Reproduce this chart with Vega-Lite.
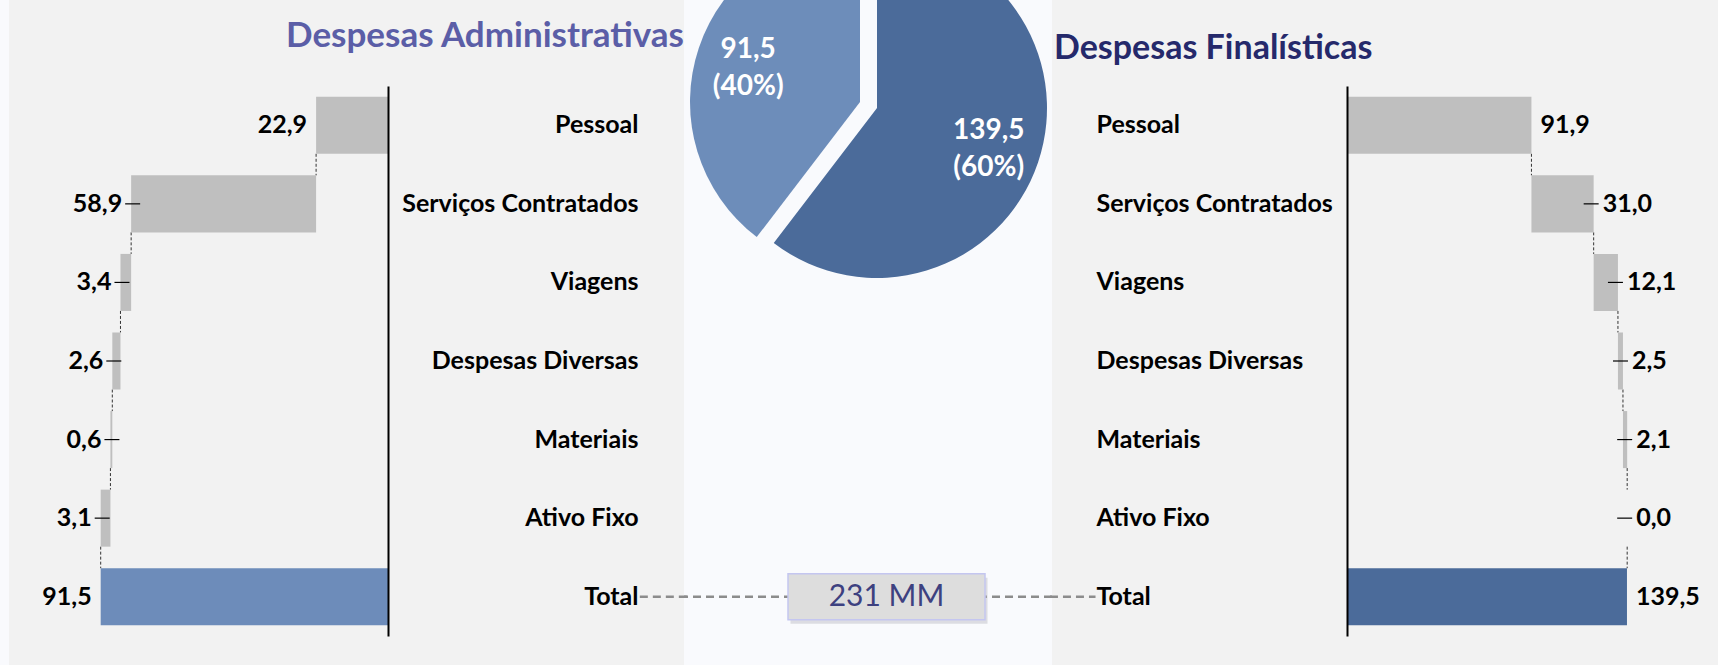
{
  "$schema": "https://vega.github.io/schema/vega-lite/v6.json",
  "background": "#f9fafd",
  "padding": {"left": 9, "top": 0, "right": 0, "bottom": 0},
  "spacing": 0,
  "bounds": "flush",
  "config": {"font": "Lato", "view": {"stroke": null}},
  "datasets": {
    "adm": [
      {"cat": "Pessoal", "inicio": 0, "fim": 22.9, "rotulo": "22,9", "prox": "Serviços Contratados"},
      {"cat": "Serviços Contratados", "inicio": 22.9, "fim": 81.8, "rotulo": "58,9", "prox": "Viagens"},
      {"cat": "Viagens", "inicio": 81.8, "fim": 85.2, "rotulo": "3,4", "prox": "Despesas Diversas"},
      {"cat": "Despesas Diversas", "inicio": 85.2, "fim": 87.8, "rotulo": "2,6", "prox": "Materiais"},
      {"cat": "Materiais", "inicio": 87.8, "fim": 88.4, "rotulo": "0,6", "prox": "Ativo Fixo"},
      {"cat": "Ativo Fixo", "inicio": 88.4, "fim": 91.5, "rotulo": "3,1", "prox": "Total"},
      {"cat": "Total", "inicio": 0, "fim": 91.5, "rotulo": "91,5", "prox": null}
    ],
    "fin": [
      {"cat": "Pessoal", "inicio": 0, "fim": 91.9, "rotulo": "91,9", "prox": "Serviços Contratados"},
      {"cat": "Serviços Contratados", "inicio": 91.9, "fim": 122.9, "rotulo": "31,0", "prox": "Viagens"},
      {"cat": "Viagens", "inicio": 122.9, "fim": 135.0, "rotulo": "12,1", "prox": "Despesas Diversas"},
      {"cat": "Despesas Diversas", "inicio": 135.0, "fim": 137.5, "rotulo": "2,5", "prox": "Materiais"},
      {"cat": "Materiais", "inicio": 137.5, "fim": 139.6, "rotulo": "2,1", "prox": "Ativo Fixo"},
      {"cat": "Ativo Fixo", "inicio": 139.6, "fim": 139.6, "rotulo": "0,0", "prox": "Total"},
      {"cat": "Total", "inicio": 0, "fim": 139.5, "rotulo": "139,5", "prox": null}
    ],
    "pizza": [
      {"grupo": "Finalísticas", "valor": 139.5, "rotulo": "139,5\n(60%)", "ordem": 1},
      {"grupo": "Administrativas", "valor": 91.5, "rotulo": "91,5\n(40%)", "ordem": 2}
    ],
    "total": [
      {"cat": "Total", "texto": "231 MM"}
    ]
  },
  "hconcat": [
    {
      "width": 675,
      "height": 665,
      "view": {"fill": "#f2f2f2", "stroke": null},
      "title": {"text": "Despesas Administrativas", "anchor": "end", "frame": "group", "orient": "top", "offset": -54, "font": "Lato", "fontSize": 35, "fontWeight": "bold", "color": "#5b5ea7"},
      "data": {"name": "adm"},
      "encoding": {
        "y": {
          "field": "cat", "type": "nominal",
          "scale": {"domain": ["Pessoal", "Serviços Contratados", "Viagens", "Despesas Diversas", "Materiais", "Ativo Fixo", "Total"], "range": [86, 636], "paddingInner": 0.274, "paddingOuter": 0.137},
          "axis": {"orient": "right", "offset": -296, "title": null, "ticks": false, "tickSize": 0, "labelPadding": 250, "labelAlign": "right", "labelBaseline": "middle", "labelFont": "Lato", "labelFontSize": 25, "labelFontWeight": "bold", "labelColor": "#000000", "labelLimit": 400, "domainColor": "#000000", "domainWidth": 2, "grid": false, "zindex": 1}
        }
      },
      "layer": [
        {
          "transform": [{"filter": "datum.prox != null"}],
          "mark": {"type": "rule", "color": "#333333", "strokeWidth": 1, "strokeDash": [3, 2], "yOffset": 28.5, "y2Offset": -28.5},
          "encoding": {
            "x": {"field": "fim", "type": "quantitative", "scale": {"domain": [0, 100], "range": [379, 65]}, "axis": null},
            "y2": {"field": "prox"}
          }
        },
        {
          "mark": {"type": "bar"},
          "encoding": {
            "x": {"field": "inicio", "type": "quantitative", "scale": {"domain": [0, 100], "range": [379, 65]}, "axis": null},
            "x2": {"field": "fim"},
            "color": {"condition": {"test": "datum.cat === 'Total'", "value": "#6d8cba"}, "value": "#bfbfbf"}
          }
        },
        {
          "transform": [{"filter": "datum.cat !== 'Pessoal' && datum.cat !== 'Total'"}],
          "mark": {"type": "rule", "color": "#000000", "strokeWidth": 1.2, "xOffset": -6, "x2Offset": 9},
          "encoding": {
            "x": {"field": "fim", "type": "quantitative", "scale": {"domain": [0, 100], "range": [379, 65]}, "axis": null},
            "x2": {"field": "fim"}
          }
        },
        {
          "mark": {"type": "text", "align": "right", "baseline": "middle", "xOffset": -9, "font": "Lato", "fontSize": 25, "fontWeight": "bold", "color": "#000000"},
          "encoding": {
            "x": {"field": "fim", "type": "quantitative", "scale": {"domain": [0, 100], "range": [379, 65]}, "axis": null},
            "text": {"field": "rotulo"}
          }
        },
        {
          "transform": [{"filter": "datum.cat === 'Total'"}],
          "mark": {"type": "rule", "color": "#8c8c8c", "strokeWidth": 2.5, "strokeDash": [8, 5]},
          "encoding": {
            "x": {"datum": -80.2, "type": "quantitative", "scale": {"domain": [0, 100], "range": [379, 65]}, "axis": null},
            "x2": {"datum": -96}
          }
        }
      ]
    },
    {
      "width": 368,
      "height": 665,
      "layer": [
        {
          "data": {"name": "total"},
          "mark": {"type": "rule", "color": "#8c8c8c", "strokeWidth": 2.5, "strokeDash": [8, 5]},
          "encoding": {
            "y": {"field": "cat", "type": "nominal", "scale": {"domain": ["Pessoal", "Serviços Contratados", "Viagens", "Despesas Diversas", "Materiais", "Ativo Fixo", "Total"], "range": [86, 636], "paddingInner": 0.274, "paddingOuter": 0.137}, "axis": null}
          }
        },
        {
          "data": {"name": "total"},
          "mark": {"type": "point", "shape": "M-1,-0.2335L1,-0.2335L1,0.2335L-1,0.2335Z", "size": 38809, "filled": true, "color": "#b8b8c0", "opacity": 0.45, "xOffset": 21, "yOffset": 4},
          "encoding": {"y": {"field": "cat", "type": "nominal"}}
        },
        {
          "data": {"name": "total"},
          "mark": {"type": "point", "shape": "M-1,-0.2335L1,-0.2335L1,0.2335L-1,0.2335Z", "size": 38809, "filled": true, "fill": "#dddddd", "opacity": 1, "stroke": "#c4c6f0", "strokeWidth": 1.5, "xOffset": 18.5},
          "encoding": {"y": {"field": "cat", "type": "nominal"}}
        },
        {
          "data": {"name": "total"},
          "mark": {"type": "text", "font": "Lato", "fontSize": 30, "fontWeight": "normal", "color": "#3d4180", "xOffset": 18.5, "baseline": "middle"},
          "encoding": {"y": {"field": "cat", "type": "nominal"}, "text": {"field": "texto"}}
        },
        {
          "data": {"name": "pizza"},
          "mark": {"type": "arc", "outerRadius": 170, "clip": true, "xOffset": 9, "yOffset": -224.5, "color": "#4b6b9a"},
          "encoding": {
            "theta": {"field": "valor", "type": "quantitative", "stack": true},
            "order": {"field": "ordem", "type": "quantitative"},
            "opacity": {"condition": {"test": "datum.grupo === 'Finalísticas'", "value": 1}, "value": 0}
          }
        },
        {
          "data": {"name": "pizza"},
          "mark": {"type": "arc", "outerRadius": 170, "clip": true, "xOffset": -8, "yOffset": -230.5, "color": "#6d8dba"},
          "encoding": {
            "theta": {"field": "valor", "type": "quantitative", "stack": true},
            "order": {"field": "ordem", "type": "quantitative"},
            "opacity": {"condition": {"test": "datum.grupo === 'Administrativas'", "value": 1}, "value": 0}
          }
        },
        {
          "data": {"name": "pizza"},
          "mark": {"type": "text", "radius": 118, "xOffset": 9, "yOffset": -224.5, "dy": -14.5, "color": "#ffffff", "font": "Lato", "fontSize": 28, "fontWeight": "bold", "lineBreak": "\n", "lineHeight": 37, "baseline": "middle"},
          "encoding": {
            "theta": {"field": "valor", "type": "quantitative", "stack": true},
            "order": {"field": "ordem", "type": "quantitative"},
            "text": {"field": "rotulo"},
            "opacity": {"condition": {"test": "datum.grupo === 'Finalísticas'", "value": 1}, "value": 0}
          }
        },
        {
          "data": {"name": "pizza"},
          "mark": {"type": "text", "radius": 118, "xOffset": -8, "yOffset": -230.5, "dy": -14.5, "color": "#ffffff", "font": "Lato", "fontSize": 28, "fontWeight": "bold", "lineBreak": "\n", "lineHeight": 37, "baseline": "middle"},
          "encoding": {
            "theta": {"field": "valor", "type": "quantitative", "stack": true},
            "order": {"field": "ordem", "type": "quantitative"},
            "text": {"field": "rotulo"},
            "opacity": {"condition": {"test": "datum.grupo === 'Administrativas'", "value": 1}, "value": 0}
          }
        }
      ]
    },
    {
      "width": 666,
      "height": 665,
      "view": {"fill": "#f2f2f2", "stroke": null},
      "title": {"text": "Despesas Finalísticas", "anchor": "start", "frame": "group", "orient": "top", "offset": -66, "dx": 2, "font": "Lato", "fontSize": 34, "fontWeight": "bold", "color": "#25296b"},
      "data": {"name": "fin"},
      "encoding": {
        "y": {
          "field": "cat", "type": "nominal",
          "scale": {"domain": ["Pessoal", "Serviços Contratados", "Viagens", "Despesas Diversas", "Materiais", "Ativo Fixo", "Total"], "range": [86, 636], "paddingInner": 0.274, "paddingOuter": 0.137},
          "axis": {"orient": "left", "offset": -295, "title": null, "ticks": false, "tickSize": 0, "labelPadding": 251, "labelAlign": "left", "labelBaseline": "middle", "labelFont": "Lato", "labelFontSize": 25, "labelFontWeight": "bold", "labelColor": "#000000", "labelLimit": 400, "domainColor": "#000000", "domainWidth": 2, "grid": false, "zindex": 1}
        }
      },
      "layer": [
        {
          "transform": [{"filter": "datum.prox != null"}],
          "mark": {"type": "rule", "color": "#333333", "strokeWidth": 1, "strokeDash": [3, 2], "yOffset": 28.5, "y2Offset": -28.5},
          "encoding": {
            "x": {"field": "fim", "type": "quantitative", "scale": {"domain": [0, 100], "range": [295, 495.7]}, "axis": null},
            "y2": {"field": "prox"}
          }
        },
        {
          "mark": {"type": "bar"},
          "encoding": {
            "x": {"field": "inicio", "type": "quantitative", "scale": {"domain": [0, 100], "range": [295, 495.7]}, "axis": null},
            "x2": {"field": "fim"},
            "color": {"condition": {"test": "datum.cat === 'Total'", "value": "#4b6b9a"}, "value": "#bfbfbf"}
          }
        },
        {
          "transform": [{"filter": "datum.cat !== 'Pessoal' && datum.cat !== 'Total'"}],
          "mark": {"type": "rule", "color": "#000000", "strokeWidth": 1.2, "xOffset": -10, "x2Offset": 5},
          "encoding": {
            "x": {"field": "fim", "type": "quantitative", "scale": {"domain": [0, 100], "range": [295, 495.7]}, "axis": null},
            "x2": {"field": "fim"}
          }
        },
        {
          "mark": {"type": "text", "align": "left", "baseline": "middle", "xOffset": 9, "font": "Lato", "fontSize": 25, "fontWeight": "bold", "color": "#000000"},
          "encoding": {
            "x": {"field": "fim", "type": "quantitative", "scale": {"domain": [0, 100], "range": [295, 495.7]}, "axis": null},
            "text": {"field": "rotulo"}
          }
        },
        {
          "transform": [{"filter": "datum.cat === 'Total'"}],
          "mark": {"type": "rule", "color": "#8c8c8c", "strokeWidth": 2.5, "strokeDash": [8, 5]},
          "encoding": {
            "x": {"datum": -148, "type": "quantitative", "scale": {"domain": [0, 100], "range": [295, 495.7]}, "axis": null},
            "x2": {"datum": -125.3}
          }
        }
      ]
    }
  ]
}
